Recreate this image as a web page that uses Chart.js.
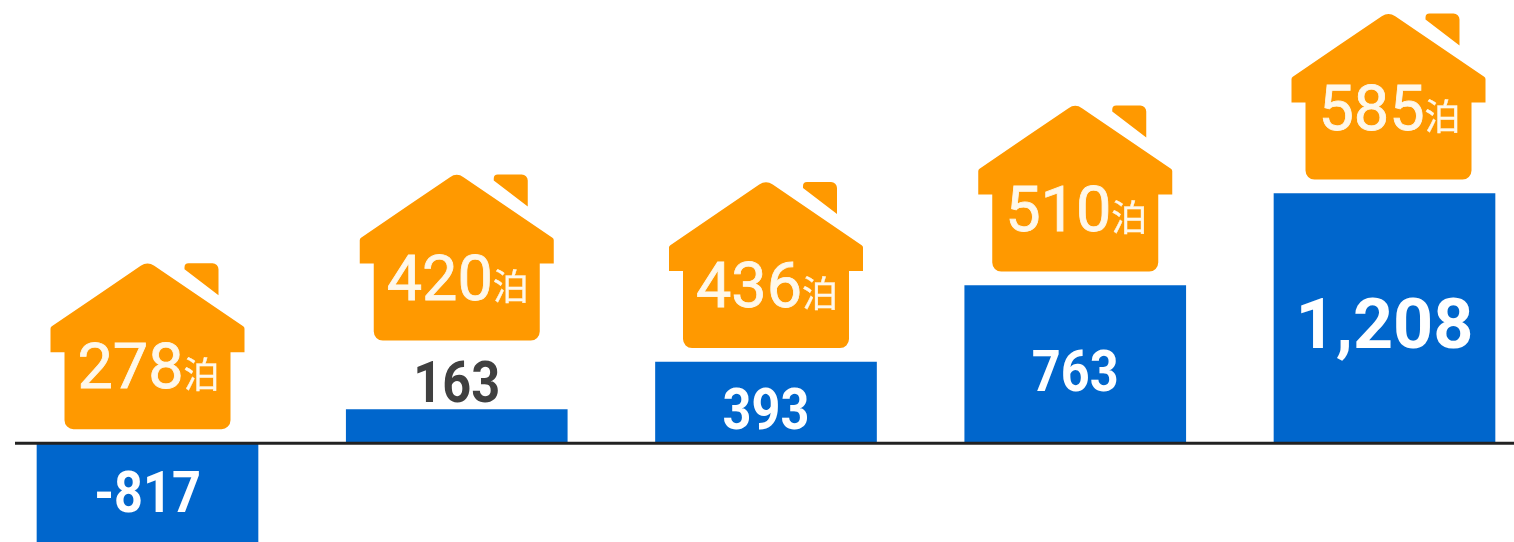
<!DOCTYPE html>
<html lang="ja">
<head>
<meta charset="utf-8">
<title>Chart</title>
<style>
  html, body { margin: 0; padding: 0; background: #fff; overflow: hidden; }
  canvas { display: block; }
</style>
</head>
<body>
<canvas id="chart" width="1514" height="542"></canvas>
<script src="https://cdn.jsdelivr.net/npm/chart.js@4"></script>
<script>
const categories = ["1", "2", "3", "4", "5"];
const barValues = [-817, 163, 393, 763, 1208];
const barLabels = ["-817", "163", "393", "763", "1,208"];
const nights = ["278", "420", "436", "510", "585"];
const nightUnit = "泊";

const ORANGE = "#ff9900";
const BLUE = "#0066cc";
const LABEL_FONT = '"Roboto", "Noto Sans", sans-serif';
const CJK_FONT = '"Noto Sans CJK JP", sans-serif';

// polygon with a corner radius per point, [x, y, r]
const tracePolygon = (ctx, pts) => {
  const last = pts[pts.length - 1];
  const first = pts[0];
  ctx.beginPath();
  ctx.moveTo((last[0] + first[0]) / 2, (last[1] + first[1]) / 2);
  pts.forEach((pt, i) => {
    const next = pts[(i + 1) % pts.length];
    ctx.arcTo(pt[0], pt[1], next[0], next[1], pt[2]);
  });
  ctx.closePath();
};

const drawHouse = (ctx, cx, bottom) => {
  const at = (dx, dy, r = 0) => [cx + dx, bottom + dy, r];
  ctx.fillStyle = ORANGE;
  tracePolygon(ctx, [
    at(0, -168, 12), at(97, -102, 3), at(97, -77), at(83, -77), at(83, 0, 9),
    at(-83, 0, 9), at(-83, -77), at(-97, -77), at(-97, -102, 3),
  ]);
  ctx.fill();
  // chimney
  tracePolygon(ctx, [at(37, -166, 4), at(71, -166, 6), at(71, -134), at(37, -160)]);
  ctx.fill();
};

const housePlugin = {
  id: "houses",
  afterDatasetsDraw(chart) {
    const { ctx, scales } = chart;
    const zeroY = scales.y.getPixelForValue(0);

    // axis line, runs past the first and last bars
    ctx.save();
    ctx.strokeStyle = "#222222";
    ctx.lineWidth = 3;
    ctx.beginPath();
    ctx.moveTo(15, zeroY);
    ctx.lineTo(chart.width, zeroY);
    ctx.stroke();

    chart.getDatasetMeta(0).data.forEach((bar, i) => {
      const value = barValues[i];
      const height = Math.abs(bar.y - zeroY);
      const isBig = value > 1000;
      const outside = value > 0 && height < 50;
      const top = value < 0 ? zeroY : bar.y;
      const houseBottom = outside ? top - 69 : top - 14;
      const last = i === barValues.length - 1;
      const houseX = bar.x + (last ? 4 : 0);

      drawHouse(ctx, houseX, houseBottom);

      // nights text sits inside the house, a thin stroke gives the in-between weight
      const baseY = houseBottom - (last ? 50 : 41);
      ctx.fillStyle = "#fff8ea";
      ctx.strokeStyle = "#fff8ea";
      ctx.textBaseline = "alphabetic";
      ctx.textAlign = "left";
      ctx.font = `400 63px ${LABEL_FONT}`;
      const numWidth = ctx.measureText(nights[i]).width;
      const startX = houseX + 1 - (numWidth + 36) / 2;
      ctx.lineWidth = 0.8;
      ctx.fillText(nights[i], startX, baseY);
      ctx.strokeText(nights[i], startX, baseY);
      ctx.font = `400 36px ${CJK_FONT}`;
      ctx.lineWidth = 0.4;
      ctx.fillText(nightUnit, startX + numWidth, baseY);
      ctx.strokeText(nightUnit, startX + numWidth, baseY);

      // value label, the small ones are squeezed to get the narrow digits
      ctx.textAlign = "center";
      ctx.textBaseline = "middle";
      ctx.font = `700 ${isBig ? 70 : 58}px ${LABEL_FONT}`;
      ctx.fillStyle = outside ? "#404040" : "#ffffff";
      let labelY;
      if (outside) {
        labelY = top - 22;
      } else if (value < 0) {
        labelY = zeroY + 54;
      } else {
        labelY = (top + zeroY) / 2 + 12;
      }
      const squeeze = isBig ? 1 : 0.87;
      ctx.save();
      ctx.translate(bar.x, labelY);
      ctx.scale(squeeze, 1);
      ctx.fillText(barLabels[i], 0, 0);
      ctx.restore();
    });
    ctx.restore();
  },
};

new Chart(document.getElementById("chart"), {
  type: "bar",
  data: {
    labels: categories,
    datasets: [
      {
        data: barValues,
        backgroundColor: BLUE,
        borderWidth: 0,
        barThickness: 221,
        clip: false,
      },
    ],
  },
  options: {
    responsive: false,
    animation: false,
    layout: { padding: { left: 147.5, right: 129.5, top: 0, bottom: 0 } },
    plugins: {
      legend: { display: false },
      tooltip: { enabled: false },
    },
    scales: {
      x: { display: false, offset: false, grid: { display: false } },
      y: { display: false, min: -478, max: 2145, grid: { display: false } },
    },
  },
  plugins: [housePlugin],
});
</script>
</body>
</html>
